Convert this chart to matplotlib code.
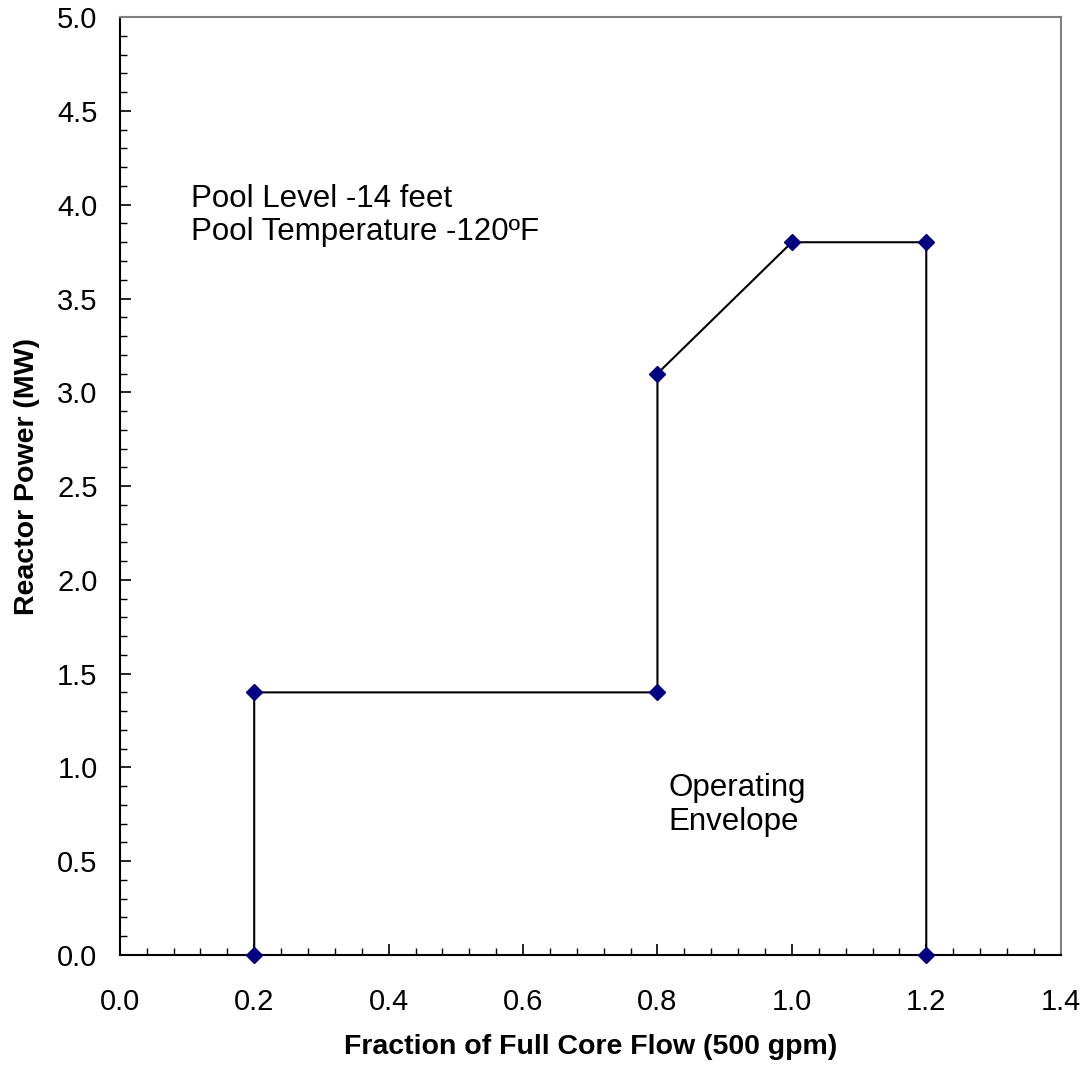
import matplotlib
matplotlib.use("Agg")
import matplotlib.pyplot as plt
from matplotlib.ticker import MultipleLocator

plt.rcParams['font.family'] = ['Liberation Sans', 'DejaVu Sans']

flow = [0.2, 0.2, 0.8, 0.8, 1.0, 1.2, 1.2]
power = [0.0, 1.4, 1.4, 3.1, 3.8, 3.8, 0.0]
x_ticks = [0.0, 0.2, 0.4, 0.6, 0.8, 1.0, 1.2, 1.4]
y_ticks = [0.0, 0.5, 1.0, 1.5, 2.0, 2.5, 3.0, 3.5, 4.0, 4.5, 5.0]

fig = plt.figure(figsize=(10.89, 10.73), dpi=100)
ax = fig.add_axes([0.110, 0.110, 0.864, 0.874])

ax.plot(flow, power, color='black', lw=1.5, marker='D', markersize=8.5,
        markerfacecolor='#000080', markeredgecolor='#000080', zorder=3, clip_on=False)

ax.set_xlim(0, 1.4)
ax.set_ylim(0, 5.0)
ax.set_xticks(x_ticks)
ax.set_yticks(y_ticks)
ax.set_xticklabels([f"{v:.1f}" for v in x_ticks])
ax.set_yticklabels([f"{v:.1f}" for v in y_ticks])
ax.xaxis.set_minor_locator(MultipleLocator(0.04))
ax.yaxis.set_minor_locator(MultipleLocator(0.1))
ax.tick_params(which='major', direction='in', length=8, width=1.2, labelsize=21, color='black')
ax.tick_params(which='minor', direction='in', length=5, width=1.0, color='black')
ax.tick_params(axis='x', which='major', pad=24)
ax.tick_params(axis='y', which='major', pad=16)
ax.tick_params(top=False, right=False, which='both')

for s in ['left', 'bottom']:
    ax.spines[s].set_color('black')
    ax.spines[s].set_linewidth(1.5)
for s in ['top', 'right']:
    ax.spines[s].set_color('#808080')
    ax.spines[s].set_linewidth(1.5)

ax.set_xlabel('Fraction of Full Core Flow (500 gpm)', fontsize=20.5, fontweight='bold', labelpad=13)
ax.set_ylabel('Reactor Power (MW)', fontsize=20.5, fontweight='bold', labelpad=12)
ax.yaxis.label.set_y(0.51)

ax.text(0.106, 3.987, 'Pool Level -14 feet', fontsize=22.5, va='baseline', ha='left')
ax.text(0.106, 3.81, 'Pool Temperature -120ºF', fontsize=22.5, va='baseline', ha='left')
ax.text(0.817, 0.845, 'Operating', fontsize=22.5, va='baseline', ha='left')
ax.text(0.817, 0.668, 'Envelope', fontsize=22.5, va='baseline', ha='left')

fig.savefig('out.png', dpi=100)
